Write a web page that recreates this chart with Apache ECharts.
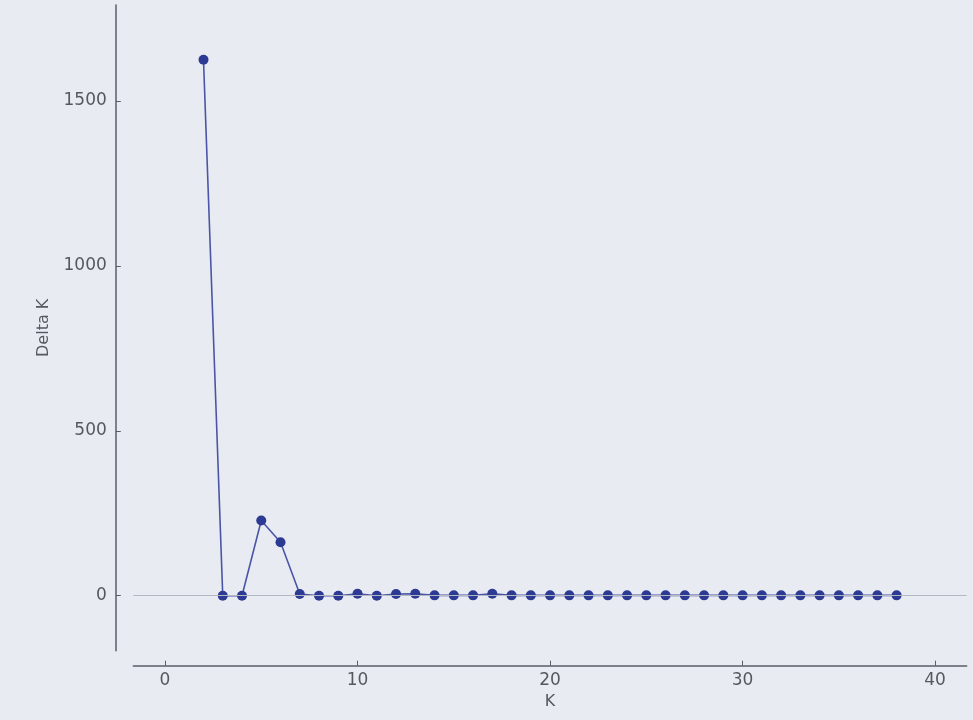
<!DOCTYPE html>
<html>
<head>
<meta charset="utf-8">
<script src="https://cdn.jsdelivr.net/npm/echarts@6/dist/echarts.min.js"></script>
<style>
html,body{margin:0;padding:0;background:#e9ebf3;}
#chart{width:973px;height:720px;}
</style>
</head>
<body>
<div id="chart"></div>
<script>
var kValues = [2,3,4,5,6,7,8,9,10,11,12,13,14,15,16,17,18,19,20,21,22,23,24,25,26,27,28,29,30,31,32,33,34,35,36,37,38];
var deltaK = [1625,0,0,228,162,5,0,0,6,0,5,6,1,1,1,6,1,1,1,1,1,1,1,1,1,1,1,1,1,1,1,1,1,1,1,1,1];
var xTicks = [0,10,20,30,40];
var yTicks = [0,500,1000,1500];

var points = kValues.map(function(k,i){return [k, deltaK[i]];});
var chart = echarts.init(document.getElementById('chart'));
var txt = '#55595f';
function plain(v){ return String(Math.round(v)); }
chart.setOption({
  backgroundColor: '#e9ebf3',
  animation: false,
  grid: {left: 133.3, right: 6.3, top: 5, bottom: 69.3},
  xAxis: {
    type: 'value', min: -1.646, max: 41.64, offset: 15,
    name: 'K', nameLocation: 'middle', nameGap: 24,
    nameTextStyle: {color: txt, fontSize: 16, fontFamily: 'DejaVu Sans'},
    axisLine: {show: true, onZero: false, lineStyle: {color: '#5a5e66', width: 1.5}},
    axisTick: {show: true, inside: true, length: 5, customValues: xTicks, lineStyle: {color: '#5a5e66', width: 1}},
    axisLabel: {customValues: xTicks, formatter: plain, color: txt, fontSize: 17, fontFamily: 'DejaVu Sans', margin: 6},
    splitLine: {show: false}
  },
  yAxis: {
    type: 'value', min: -166.8, max: 1791, offset: 17.5,
    name: 'Delta K', nameLocation: 'middle', nameGap: 64, nameRotate: 90,
    nameTextStyle: {color: txt, fontSize: 16, fontFamily: 'DejaVu Sans'},
    axisLine: {show: true, onZero: false, lineStyle: {color: '#5a5e66', width: 1.5}},
    axisTick: {show: true, inside: true, length: 5, customValues: yTicks, lineStyle: {color: '#5a5e66', width: 1}},
    axisLabel: {customValues: yTicks, formatter: plain, color: txt, fontSize: 17, fontFamily: 'DejaVu Sans', margin: 9},
    splitLine: {show: false}
  },
  series: [{
    type: 'line',
    data: points,
    symbol: 'circle',
    symbolSize: 10,
    itemStyle: {color: '#2c3a94'},
    lineStyle: {color: '#4a55a6', width: 1.6},
    markLine: {
      silent: true, symbol: 'none', label: {show: false},
      lineStyle: {color: '#b4b8c2', width: 1, type: 'solid'},
      data: [{yAxis: 0}]
    },
    z: 3
  }]
});
</script>
</body>
</html>
